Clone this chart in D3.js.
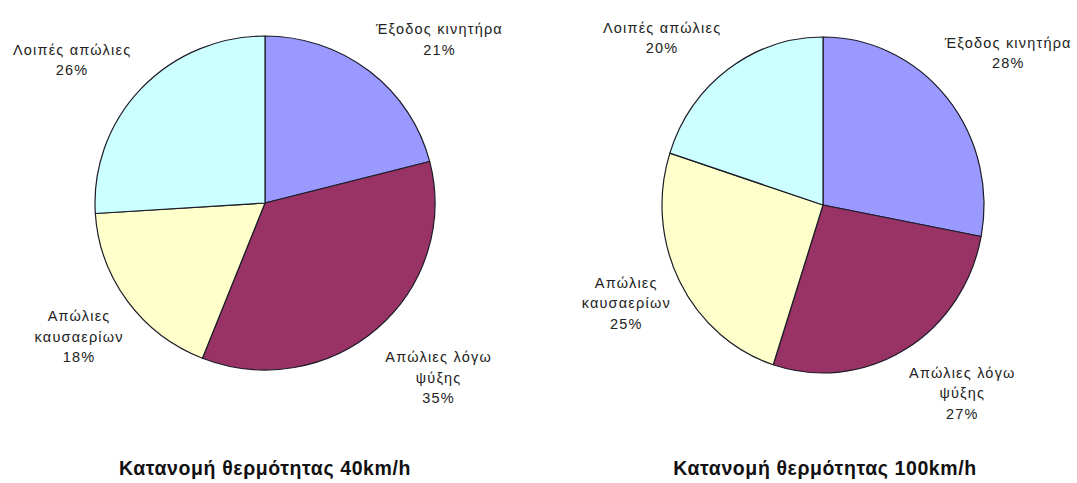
<!DOCTYPE html>
<html>
<head>
<meta charset="utf-8">
<script src="https://cdn.jsdelivr.net/npm/d3@7"></script>
<style>
  html, body { margin: 0; padding: 0; background: #fff; }
  svg { display: block; }
  .lbl { font-family: "Liberation Sans", Arial, sans-serif; font-size: 14.5px; fill: #222; letter-spacing: 1.2px; }
  .ttl { font-family: "Liberation Sans", Arial, sans-serif; font-size: 19.5px; font-weight: bold; fill: #111; letter-spacing: 0.6px; }
</style>
</head>
<body>
<svg id="chart" width="1077" height="483"></svg>
<script>
// Heat-balance categories (clockwise from 12 o'clock)
const categories = ["Έξοδος κινητήρα", "Απώλιες λόγω ψύξης", "Απώλιες καυσαερίων", "Λοιπές απώλιες"];
// How each category label is broken into lines
const labelLines = [["Έξοδος κινητήρα"], ["Απώλιες λόγω", "ψύξης"], ["Απώλιες", "καυσαερίων"], ["Λοιπές απώλιες"]];
// Percentages at 40 km/h and at 100 km/h
const values40 = [21, 35, 18, 26];
const values100 = [28, 27, 25, 20];
const titles = ["Κατανομή θερμότητας 40km/h", "Κατανομή θερμότητας 100km/h"];
const sliceColors = ["#9999FF", "#993366", "#FFFFCC", "#CCFFFF"];

const svg = d3.select("#chart");

const charts = [
  { values: values40, title: titles[0], cx: 265, cy: 203, rx: 170, ry: 167, gap: 12,
    nudge: [[-1, -4], [0, 12], [6, 0], [-1, -2]], titleX: 265 },
  { values: values100, title: titles[1], cx: 823, cy: 205, rx: 161, ry: 168, gap: 12,
    nudge: [[-12, -19], [-2, 5], [2, -12], [0, -3]], titleX: 825 }
];

const pie = d3.pie().sort(null).value(d => d);
const lineH = 20.5;

charts.forEach(c => {
  const arcs = pie(c.values);
  const arc = d3.arc().innerRadius(0).outerRadius(c.ry);

  const g = svg.append("g")
    .attr("transform", `translate(${c.cx},${c.cy}) scale(${c.rx / c.ry},1)`);

  g.selectAll("path")
    .data(arcs)
    .join("path")
    .attr("d", arc)
    .attr("fill", (d, i) => sliceColors[i])
    .attr("stroke", "#1c1c28")
    .attr("stroke-width", 1.2)
    .attr("stroke-linejoin", "round")
    .attr("vector-effect", "non-scaling-stroke");

  // Labels sit outside the rim, with their nearest corner on the slice's mid-angle
  arcs.forEach((d, i) => {
    const a = (d.startAngle + d.endAngle) / 2;
    const s = Math.sin(a), k = Math.cos(a);
    const ax = c.cx + (c.rx + c.gap) * s;
    const ay = c.cy - (c.ry + c.gap) * k;

    const t = svg.append("text").attr("class", "lbl").attr("text-anchor", "middle");
    const lines = labelLines[i].concat([d.data + "%"]);
    lines.forEach((ln, j) => {
      t.append("tspan").attr("x", 0).attr("y", j * lineH).text(ln);
    });
    const bb = t.node().getBBox();
    const left = s >= 0 ? ax : ax - bb.width;
    const top = k >= 0 ? ay - bb.height : ay;
    const tx = left + bb.width / 2 + c.nudge[i][0];
    const ty = top - bb.y + c.nudge[i][1];
    t.attr("transform", `translate(${tx},${ty})`);
  });

  svg.append("text")
    .attr("class", "ttl")
    .attr("text-anchor", "middle")
    .attr("x", c.titleX)
    .attr("y", 475)
    .text(c.title);
});
</script>
</body>
</html>
